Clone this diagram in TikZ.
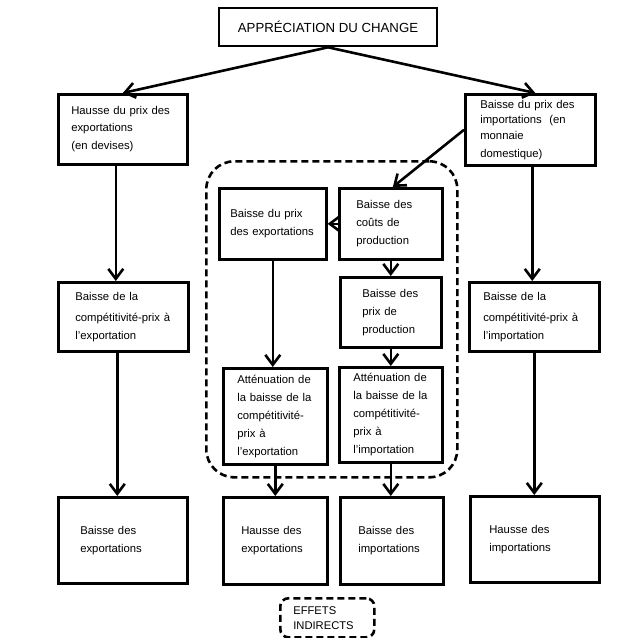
\documentclass[tikz,border=0pt]{standalone}
\usepackage{fontspec}
\setmainfont{Liberation Sans}
\usetikzlibrary{arrows.meta}
\begin{document}
\begin{tikzpicture}[x=1pt,y=-1pt,
  bx/.style={draw, line width=2.6pt, anchor=north west, align=left, inner ysep=0pt,
    font=\fontsize{11.3}{18}\selectfont},
  arr/.style={line width=2.6pt, -{Straight Barb[length=10pt,width=15pt]}},
  dsh/.style={draw, line width=2.6pt, dash pattern=on 7pt off 4pt}]
\useasboundingbox (0,0) rectangle (623,638);
% name, x, y, inset, text width, height, text
\newcommand\bxnode[7]{\node[bx, inner xsep=#4pt, text width=#5pt, minimum height=#6pt] (#1) at (#2,#3) {#7};}

\node[draw, line width=2.6pt, minimum width=218pt, minimum height=38pt, inner sep=0pt,
  font=\fontsize{13.2}{15}\selectfont] (T) at (328,27) {APPRÉCIATION DU CHANGE};

\bxnode{A1}{57}{93}{13}{103}{70}{\baselineskip=17pt Hausse du prix des\\exportations\\(en devises)}
\bxnode{A2}{57}{281}{17}{96}{69}{\baselineskip=21pt Baisse de la\\compétitivité-prix à\\l'exportation}
\bxnode{A3}{57}{496}{22}{85}{86}{Baisse des\\exportations}
\bxnode{B1}{464}{93}{15}{100}{71}{\baselineskip=15.5pt Baisse du prix des\\importations~~(en\\monnaie\\domestique)}
\bxnode{B2}{468}{281}{14}{102}{69}{\baselineskip=21pt Baisse de la\\compétitivité-prix à\\l'importation}
\bxnode{B3}{469}{495}{19}{91}{86}{Hausse des\\importations}
\bxnode{C1}{218}{187}{11}{85}{71}{Baisse du prix\\des exportations}
\bxnode{D1}{338}{187}{17}{69}{71}{Baisse des\\coûts de\\production}
\bxnode{D2}{339}{276}{22}{57}{70}{Baisse des\\prix de\\production}
\bxnode{D3}{338}{366}{14}{75}{95}{Atténuation de\\la baisse de la\\compétitivité-\\prix à\\l'importation}
\bxnode{C2}{222}{367}{14}{76}{96}{Atténuation de\\la baisse de la\\compétitivité-\\prix à\\l'exportation}
\bxnode{C3}{222}{496}{18}{68}{87}{Hausse des\\exportations}
\bxnode{D4}{339}{496}{18}{67}{87}{Baisse des\\importations}

\node[dsh, rounded corners=28pt, minimum width=251pt, minimum height=316pt, anchor=north west, inner sep=0pt] (F) at (205,160) {};
\node[dsh, rounded corners=8pt, anchor=north west, align=left, inner ysep=0pt, inner xsep=13pt,
  text width=68pt, minimum height=39pt, font=\fontsize{11.2}{15}\selectfont] (E) at (279,597) {EFFETS\\INDIRECTS};

\draw[arr] (T.south) -- (A1.north);
\draw[arr] (T.south) -- ([xshift=5pt]B1.north);
\draw[arr] ([xshift=-7pt]A1.south) -- ([xshift=-7pt]A1.south |- A2.north);
\draw[arr] ([xshift=-6pt]A2.south) -- ([xshift=-6pt]A2.south |- A3.north);
\draw[arr] ([xshift=2pt]B1.south) -- ([xshift=2pt]B1.south |- B2.north);
\draw[arr] (B2.south) -- (B2.south |- B3.north);
\draw[arr] (B1.west) -- ([xshift=2pt]D1.north);
\draw[arr] (D1.west) -- (C1.east);
\draw[arr] (C1.south) -- (C1.south |- C2.north);
\draw[arr] (C2.south) -- (C2.south |- C3.north);
\draw[arr] (D1.south) -- (D1.south |- D2.north);
\draw[arr] (D2.south) -- (D2.south |- D3.north);
\draw[arr] (D3.south) -- (D3.south |- D4.north);
\end{tikzpicture}
\end{document}
